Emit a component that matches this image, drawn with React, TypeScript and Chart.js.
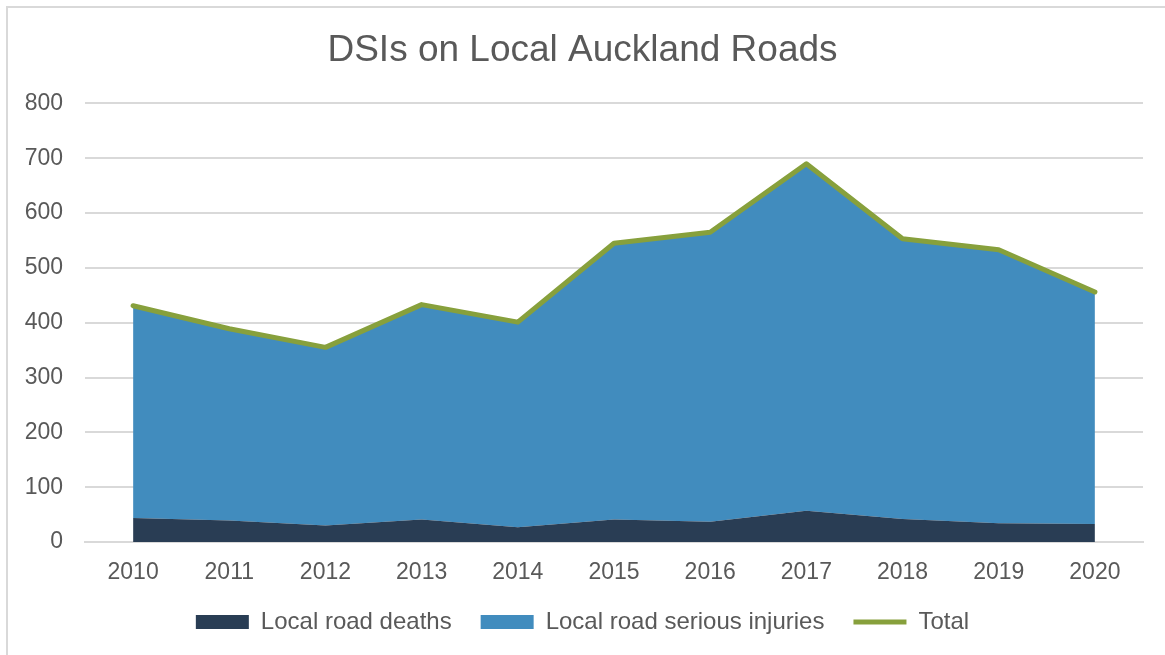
import React, { useEffect, useRef } from "react";
import { Chart, registerables } from "chart.js";

Chart.register(...registerables);

const years = ["2010", "2011", "2012", "2013", "2014", "2015", "2016", "2017", "2018", "2019", "2020"];
const deaths = [44, 39, 30, 41, 27, 41, 37, 57, 42, 34, 33];
const seriousInjuries = [387, 350, 325, 392, 374, 504, 528, 633, 511, 499, 423];
const totals = [431, 389, 355, 433, 401, 545, 565, 690, 553, 533, 456];
const yTicks = [0, 100, 200, 300, 400, 500, 600, 700, 800];

const FONT = "'Liberation Sans', Arial, sans-serif";
const TEXT = "#595959";

export default function App() {
  const ref = useRef<HTMLCanvasElement | null>(null);

  useEffect(() => {
    if (!ref.current) return;
    const chart = new Chart(ref.current, {
      type: "line",
      data: {
        labels: years,
        datasets: [
          {
            label: "Local road deaths",
            data: deaths,
            backgroundColor: "#293D54",
            borderColor: "#293D54",
            borderWidth: 0,
            pointRadius: 0,
            fill: "origin",
            stack: "areas",
            tension: 0,
            pointStyle: "rect",
          },
          {
            label: "Local road serious injuries",
            data: seriousInjuries,
            backgroundColor: "#418CBE",
            borderColor: "#418CBE",
            borderWidth: 0,
            pointRadius: 0,
            fill: "-1",
            stack: "areas",
            tension: 0,
            pointStyle: "rect",
          },
          {
            label: "Total",
            data: totals,
            borderColor: "#87A03C",
            backgroundColor: "#87A03C",
            borderWidth: 5,
            borderCapStyle: "round",
            borderJoinStyle: "round",
            pointRadius: 0,
            fill: false,
            stack: "total",
            tension: 0,
            pointStyle: "line",
          },
        ],
      },
      options: {
        animation: false,
        responsive: true,
        maintainAspectRatio: false,
        layout: { padding: { left: 22, right: 22, top: 6, bottom: 11 } },
        plugins: {
          filler: { drawTime: "beforeDatasetsDraw" },
          title: {
            display: true,
            text: "DSIs on Local Auckland Roads",
            color: TEXT,
            font: { family: FONT, size: 37, weight: "normal" },
            padding: { top: 23, bottom: 30 },
          },
          legend: {
            display: true,
            position: "bottom",
            labels: {
              color: TEXT,
              font: { family: FONT, size: 24 },
              usePointStyle: true,
              pointStyleWidth: 53,
              boxHeight: 14,
              padding: 29,
            },
          },
          tooltip: { enabled: false },
        },
        scales: {
          x: {
            offset: true,
            grid: { display: false, drawTicks: false },
            border: { display: true, color: "#D9D9D9", width: 2 },
            ticks: { color: TEXT, font: { family: FONT, size: 23 }, padding: 17 },
            afterFit: (s: any) => {
              s.height = 39;
            },
          },
          y: {
            stacked: true,
            min: 0,
            max: 800,
            afterBuildTicks: (s: any) => {
              s.ticks = yTicks.map((v) => ({ value: v }));
            },
            grid: { color: "#D9D9D9", lineWidth: 2, drawTicks: false },
            border: { display: false },
            ticks: { color: TEXT, font: { family: FONT, size: 23 }, padding: 22 },
            afterFit: (s: any) => {
              s.width = 63;
            },
          },
        },
      },
    });
    return () => chart.destroy();
  }, []);

  return (
    <div
      style={{
        position: "fixed",
        left: 0,
        top: 0,
        width: 1165,
        height: 655,
        background: "#fff",
      }}
    >
      <div
        style={{
          position: "absolute",
          left: 6,
          top: 6,
          width: 1165,
          height: 655,
          borderLeft: "2px solid #D9D9D9",
          borderTop: "2px solid #D9D9D9",
          boxSizing: "border-box",
        }}
      />
      <canvas ref={ref} />
    </div>
  );
}
